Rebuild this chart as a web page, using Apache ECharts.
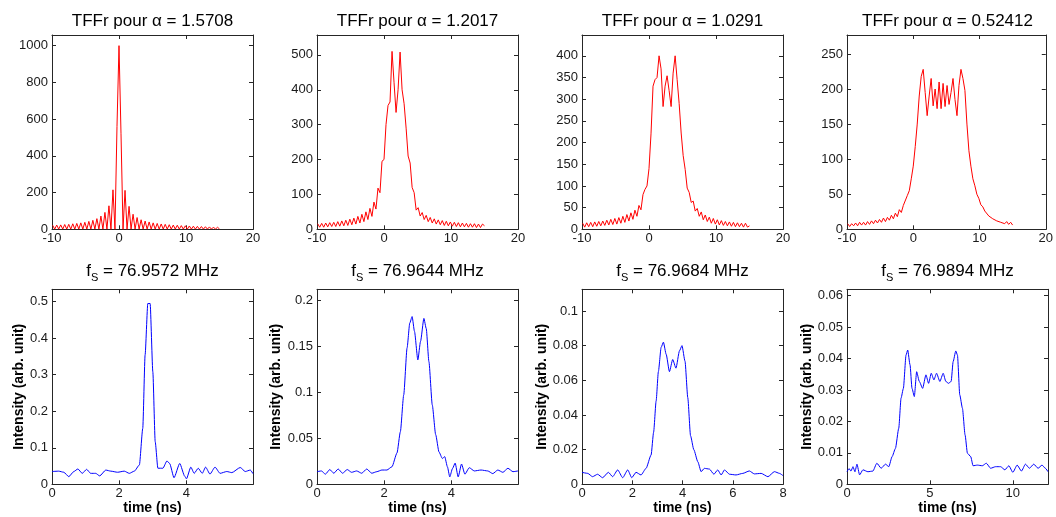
<!DOCTYPE html>
<html>
<head>
<meta charset="utf-8">
<title>TFFr / impulsions</title>
<script src="https://cdn.jsdelivr.net/npm/echarts@6/dist/echarts.min.js"></script>
<style>
  html, body { margin: 0; padding: 0; background: #fff; }
  #chart { width: 1056px; height: 517px; }
</style>
</head>
<body>
<div id="chart"></div>
<script>
// ---- données ----
// abscisse commune des 4 TFFr (haut)
const tffrX = [-9.9,-9.6,-9.3,-9.0,-8.7,-8.4,-8.1,-7.8,-7.5,-7.2,
  -6.9,-6.6,-6.3,-6.0,-5.7,-5.4,-5.1,-4.8,-4.5,-4.2,
  -3.9,-3.6,-3.3,-3.0,-2.7,-2.4,-2.1,-1.8,-1.5,-1.2,
  -0.9,-0.6,-0.3,0,0.3,0.6,0.9,1.2,1.5,1.8,
  2.1,2.4,2.7,3.0,3.3,3.6,3.9,4.2,4.5,4.8,
  5.1,5.4,5.7,6.0,6.3,6.6,6.9,7.2,7.5,7.8,
  8.1,8.4,8.7,9.0,9.3,9.6,9.9,10.2,10.5,10.8,
  11.1,11.4,11.7,12.0,12.3,12.6,12.9,13.2,13.5,13.8,
  14.1,14.4,14.7,15.0];

// alpha = 1.5708
const tffr1 = [22,1,23,1,24,1,26,1,27,1,
  30,1,32,1,35,1,38,1,43,1,
  49,1,58,1,72,1,92,1,128,0,
  215,0,560,1000,520,0,212,0,125,1,
  82,1,64,1,52,1,45,1,40,1,
  35,1,32,1,29,1,27,1,25,1,
  23,1,22,1,20,1,19,1,18,1,
  17,1,16,1,15,1,14,1,13,1,
  12,1,11,2];
// alpha = 1.2017
const tffr2 = [16,6,17,6,18,7,19,8,20,8,
  22,9,24,10,26,11,29,13,32,15,
  37,18,43,22,50,28,60,37,78,58,
  118,105,195,200,300,355,365,510,420,335,
  400,508,400,360,290,210,190,120,105,55,
  62,38,48,28,40,22,34,18,30,15,
  27,13,25,11,23,10,21,9,20,8,
  19,7,18,7,17,6,16,6,16,5,
  15,5,15,10];
// alpha = 1.0291
const tffr3 = [14,5,15,6,16,6,17,7,18,8,
  19,9,21,10,23,11,25,12,27,14,
  30,16,34,19,38,23,44,30,55,45,
  80,92,100,140,220,330,345,350,400,370,
  283,330,354,320,283,360,400,345,290,222,
  170,138,95,85,62,65,42,48,30,40,
  22,33,18,28,14,25,12,22,10,20,
  9,18,8,17,7,16,6,15,6,14,
  5,14,5,8];
// alpha = 0.52412
const tffr4 = [8,4,8,5,9,5,10,6,10,6,
  11,7,12,8,13,9,14,10,16,11,
  17,13,20,15,23,18,28,24,34,36,
  48,55,72,90,118,150,190,218,228,195,
  162,190,215,176,200,172,210,172,208,175,
  205,178,195,215,185,162,205,228,215,198,
  150,112,90,72,62,50,44,35,32,26,
  25,19,20,15,16,12,14,10,12,8,
  11,7,10,6];

// impulsions (bas) : temps en ns, intensité
const t5 = [0,0.2,0.35,0.5,0.65,0.77,0.9,1.03,1.15,1.3,
  1.42,1.6,1.75,1.95,2.15,2.3,2.45,2.6,2.7,2.77,
  2.85,2.92,3.0,3.07,3.15,3.3,3.42,3.5,3.63,3.8,
  3.95,4.0,4.13,4.23,4.35,4.47,4.57,4.7,4.85,5.0,
  5.2,5.35,5.6,5.75,5.9,5.98];
const i5 = [0.035,0.036,0.033,0.021,0.035,0.042,0.030,0.041,0.030,0.030,
  0.023,0.039,0.036,0.033,0.036,0.030,0.036,0.053,0.153,0.354,
  0.495,0.495,0.308,0.117,0.044,0.044,0.064,0.057,0.018,0.057,
  0.022,0.015,0.047,0.030,0.044,0.030,0.047,0.028,0.047,0.030,
  0.035,0.032,0.046,0.035,0.039,0.029];

const t6 = [0,0.13,0.25,0.38,0.5,0.63,0.76,0.9,1.03,1.18,
  1.33,1.48,1.63,1.78,1.93,2.08,2.23,2.38,2.48,2.58,
  2.68,2.76,2.83,2.9,3.0,3.08,3.18,3.25,3.33,3.43,
  3.53,3.63,3.73,3.8,3.88,3.95,4.03,4.11,4.2,4.3,
  4.4,4.53,4.68,4.88,5.08,5.23,5.38,5.53,5.68,5.83,
  5.98];
const i6 = [0.0137,0.0145,0.011,0.016,0.012,0.0166,0.012,0.016,0.013,0.0145,
  0.012,0.0166,0.012,0.0137,0.0155,0.0155,0.019,0.034,0.057,0.097,
  0.148,0.175,0.182,0.166,0.135,0.155,0.180,0.169,0.133,0.086,
  0.054,0.035,0.028,0.030,0.019,0.008,0.017,0.023,0.008,0.022,
  0.011,0.018,0.0145,0.0155,0.0145,0.0116,0.0155,0.013,0.0174,0.0137,
  0.0145];

const t7 = [0,0.23,0.42,0.62,0.82,1.05,1.22,1.42,1.62,1.82,
  1.98,2.15,2.35,2.55,2.75,2.85,2.95,3.04,3.15,3.24,
  3.35,3.48,3.61,3.74,3.88,3.98,4.1,4.21,4.32,4.45,
  4.61,4.74,4.87,5.07,5.25,5.4,5.54,5.67,5.87,6.13,
  6.4,6.66,6.86,7.13,7.4,7.66,7.86,8.0];
const i7 = [0.0069,0.0063,0.0044,0.0058,0.0038,0.0069,0.0044,0.0083,0.0038,0.0083,
  0.0038,0.0069,0.0054,0.0092,0.0169,0.030,0.048,0.065,0.079,0.082,
  0.075,0.065,0.072,0.067,0.077,0.080,0.071,0.050,0.028,0.020,
  0.013,0.0073,0.0092,0.0088,0.0058,0.0083,0.0054,0.0083,0.0058,0.0054,
  0.0063,0.0077,0.006,0.0063,0.0044,0.0073,0.0063,0.005];

const t8 = [0,0.12,0.24,0.36,0.48,0.6,0.76,0.96,1.26,1.56,
  1.8,2.06,2.32,2.52,2.72,2.92,3.12,3.26,3.4,3.56,
  3.66,3.8,3.92,4.06,4.2,4.36,4.56,4.76,4.92,5.08,
  5.24,5.4,5.6,5.8,5.96,6.12,6.28,6.4,6.56,6.66,
  6.8,6.96,7.12,7.26,7.46,7.6,7.86,8.16,8.4,8.66,
  8.96,9.26,9.52,9.76,10.0,10.26,10.52,10.76,11.0,11.26,
  11.52,11.76,11.96,12.12];
const i8 = [0.004,0.005,0.0042,0.0056,0.004,0.0064,0.003,0.0046,0.004,0.0042,
  0.0067,0.0051,0.0064,0.0056,0.0088,0.0114,0.0178,0.0274,0.0305,0.0411,
  0.0427,0.038,0.0305,0.0279,0.0358,0.0327,0.0305,0.0348,0.0321,0.0353,
  0.0332,0.0353,0.0327,0.0353,0.0327,0.0321,0.0327,0.039,0.0424,0.0411,
  0.0284,0.0242,0.0157,0.0099,0.0088,0.0059,0.0061,0.0059,0.0067,0.0051,
  0.0056,0.0056,0.0046,0.0059,0.0038,0.0061,0.0042,0.0064,0.0051,0.0064,
  0.0051,0.0061,0.0051,0.004];

const alphas = ['1.5708', '1.2017', '1.0291', '0.52412'];
const freqs = ['76.9572', '76.9644', '76.9684', '76.9894'];

// ---- mise en page ----
const FONT = '"Liberation Sans", Arial, Helvetica, sans-serif';
const AXC = '#262626';
const lefts = [52, 317, 582, 847];
const tops = [35, 289.3];
const heights = [194.3, 195];
const plotW = 201;

const panels = [
  {row:0, col:0, x:tffrX, y:tffr1, xMin:-10, xMax:20, xStep:10, yMax:1058, yStep:200},
  {row:0, col:1, x:tffrX, y:tffr2, xMin:-10, xMax:20, xStep:10, yMax:557, yStep:100},
  {row:0, col:2, x:tffrX, y:tffr3, xMin:-10, xMax:20, xStep:10, yMax:448, yStep:50},
  {row:0, col:3, x:tffrX, y:tffr4, xMin:-10, xMax:20, xStep:10, yMax:277, yStep:50},
  {row:1, col:0, x:t5, y:i5, xMin:0, xMax:5.98, xStep:2, yMax:0.534, yStep:0.1, nameGap:26},
  {row:1, col:1, x:t6, y:i6, xMin:0, xMax:5.98, xStep:2, yMax:0.2116, yStep:0.05, nameGap:34},
  {row:1, col:2, x:t7, y:i7, xMin:0, xMax:8, xStep:2, yMax:0.1125, yStep:0.02, nameGap:31},
  {row:1, col:3, x:t8, y:i8, xMin:0, xMax:12.12, xStep:5, yMax:0.062, yStep:0.01, nameGap:32}
];

const fmt = step => v => Math.abs(v / step - Math.round(v / step)) < 1e-6 ? String(+v.toFixed(4)) : '';

const grid = [], xAxis = [], yAxis = [], series = [], title = [];

panels.forEach((p, i) => {
  const left = lefts[p.col], top = tops[p.row], height = heights[p.row];
  const color = p.row === 0 ? '#ff0000' : '#0000ff';
  grid.push({left: left, top: top, width: plotW, height: height});

  const common = {
    gridIndex: i, type: 'value',
    axisLine: {onZero: false, lineStyle: {color: AXC, width: 1}},
    axisTick: {inside: true, length: 4, lineStyle: {color: AXC}},
    splitLine: {show: false}
  };
  const lbl = {color: '#1a1a1a', fontSize: 13, fontFamily: FONT};
  const nameStyle = {color: '#000', fontSize: 14, fontWeight: 'bold', fontFamily: FONT};

  xAxis.push(Object.assign({}, common, {
    position: 'bottom', min: p.xMin, max: p.xMax, interval: p.xStep,
    axisLabel: Object.assign({margin: 3, formatter: fmt(p.xStep)}, lbl),
    name: p.row ? 'time (ns)' : '', nameLocation: 'middle', nameGap: 16, nameTextStyle: nameStyle
  }));
  xAxis.push(Object.assign({}, common, {
    position: 'top', min: p.xMin, max: p.xMax, interval: p.xStep, axisLabel: {show: false}
  }));
  yAxis.push(Object.assign({}, common, {
    position: 'left', min: 0, max: p.yMax, interval: p.yStep,
    axisLabel: Object.assign({margin: 4, formatter: fmt(p.yStep)}, lbl),
    name: p.row ? 'Intensity (arb. unit)' : '', nameLocation: 'middle', nameGap: p.nameGap || 30,
    nameTextStyle: nameStyle
  }));
  yAxis.push(Object.assign({}, common, {
    position: 'right', min: 0, max: p.yMax, interval: p.yStep, axisLabel: {show: false}
  }));

  series.push({
    type: 'line', xAxisIndex: 2 * i, yAxisIndex: 2 * i,
    data: p.x.map((v, j) => [v, p.y[j]]),
    showSymbol: false, symbol: 'none',
    smooth: p.row ? 0.2 : false, smoothMonotone: 'x',
    lineStyle: {color: color, width: 1}, itemStyle: {color: color},
    silent: true
  });

  const cx = left + plotW / 2;
  if (p.row === 0) {
    title.push({
      text: 'TFFr pour α = ' + alphas[p.col], left: cx, top: 13, padding: 0, textAlign: 'center',
      textStyle: {fontSize: 17, fontWeight: 'normal', color: '#000', fontFamily: FONT}
    });
  } else {
    title.push({
      text: '{m|f}{s|S}{m| = ' + freqs[p.col] + ' MHz}', left: cx, top: 259.5, padding: 0, textAlign: 'center',
      textStyle: {
        fontSize: 17, fontWeight: 'normal', color: '#000', fontFamily: FONT,
        rich: {
          m: {fontSize: 17, fontWeight: 'normal', lineHeight: 24, verticalAlign: 'middle', color: '#000', fontFamily: FONT},
          s: {fontSize: 11, fontWeight: 'normal', lineHeight: 14, verticalAlign: 'bottom', color: '#000', fontFamily: FONT}
        }
      }
    });
  }
});

const chart = echarts.init(document.getElementById('chart'), null, {renderer: 'canvas'});
chart.setOption({
  animation: false,
  backgroundColor: '#fff',
  title: title,
  grid: grid,
  xAxis: xAxis,
  yAxis: yAxis,
  series: series
});
</script>
</body>
</html>
